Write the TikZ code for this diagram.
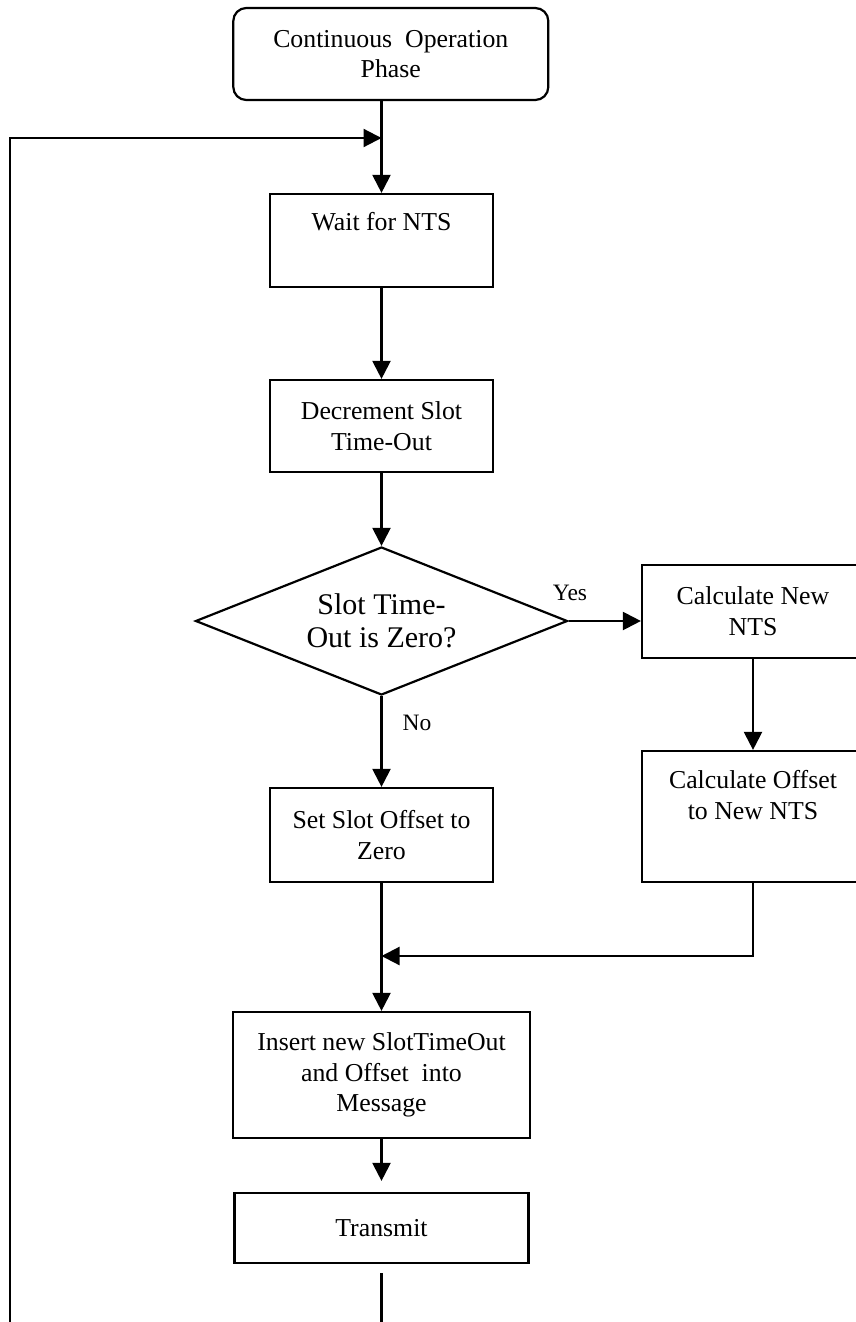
\documentclass[tikz,border=0pt]{standalone}
\usepackage{fontspec}
\setmainfont{Liberation Serif}
\usetikzlibrary{arrows.meta,shapes.geometric}
\begin{document}
\begin{tikzpicture}[x=1pt,y=-1pt,
  line width=2.2pt,
  flow/.style={-{Triangle[length=18pt,width=18pt]}},
  stepbox/.style={draw, rectangle, align=center, inner sep=0pt,
    font=\fontsize{25.8}{30.7}\selectfont},
  startbox/.style={stepbox, rounded corners=13pt},
  decision/.style={draw, diamond, aspect=2.5, align=center, inner sep=0pt,
    font=\fontsize{30}{33.3}\selectfont},
  edgelabel/.style={font=\fontsize{23.5}{28}\selectfont, inner sep=0pt}
]
\useasboundingbox (0,0) rectangle (855,1322);

% process steps
\node[startbox, minimum width=315pt, minimum height=92pt] (start) at (390.8,54)
  {Continuous\ \ Operation\\Phase};
\node[stepbox, minimum width=223pt, minimum height=93pt] (wait) at (381.5,240.5)
  {Wait for NTS\\[7pt]\mbox{}};
\node[stepbox, minimum width=223pt, minimum height=92pt] (dec) at (381.5,426)
  {Decrement Slot\\Time-Out};
\node[decision, minimum width=372pt, minimum height=148pt] (dia) at (381.5,621)
  {Slot Time-\\Out is Zero?};
\node[stepbox, minimum width=222pt, minimum height=93pt] (calcnew) at (753,611.5)
  {Calculate New\\NTS};
\node[stepbox, minimum width=222pt, minimum height=131pt] (calcoff) at (753,816.5)
  {Calculate Offset\\to New NTS\\[12pt]\mbox{}};
\node[stepbox, minimum width=223pt, minimum height=94pt] (setz) at (381.5,835)
  {Set Slot Offset to\\Zero};
\node[stepbox, minimum width=297pt, minimum height=126pt] (ins) at (381.5,1075)
  {Insert new SlotTimeOut\\and Offset\ \ into\\Message};
\node[stepbox, minimum width=294pt, minimum height=70pt] (tx) at (381.5,1228)
  {Transmit};

% junction points
\coordinate (loopin) at (381.5,138);
\coordinate (merge) at (381.5,956);

% connectors
\draw[flow] (wait.north |- start.south) -- (wait.north);
\draw[flow] (wait) -- (dec);
\draw[flow] (dec) -- (dia);
\draw[flow] (dia.east) -- (dia.east -| calcnew.west);
\node[edgelabel] at (570,593) {Yes};
\draw[flow] (calcnew) -- (calcoff);
\draw[flow] (dia.south) -- (setz.north);
\node[edgelabel] at (417,723) {No};
\draw[flow] (setz) -- (ins);
\draw[flow] (calcoff.south) |- (merge);
\draw[flow, shorten >=11pt] (ins) -- (tx);

% loop back to the top
\draw[flow, shorten <=9pt] (tx.south) -- (tx.south |- 0,1345) -- (10,1345)
  -- (10,138) -- (loopin);
\end{tikzpicture}
\end{document}
